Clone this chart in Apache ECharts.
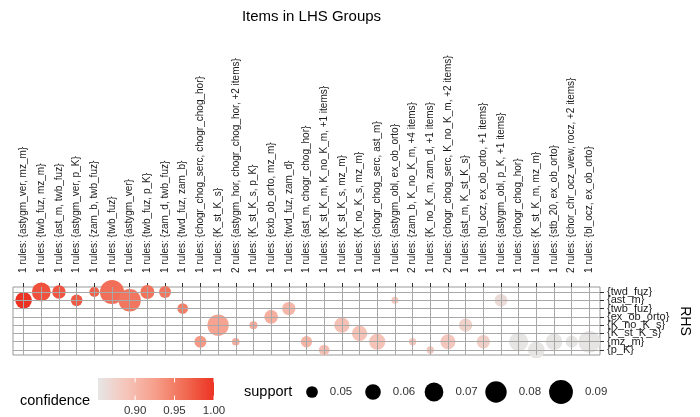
<!DOCTYPE html>
<html>
<head>
<meta charset="utf-8">
<title>Items in LHS Groups</title>
<script src="https://cdn.jsdelivr.net/npm/echarts@6/dist/echarts.min.js"></script>
<style>
  html, body { margin: 0; padding: 0; background: #ffffff; }
  #chart { width: 700px; height: 417px; }
</style>
</head>
<body>
<div id="chart"></div>
<script>
// LHS groups (columns) of the grouped matrix
const lhsGroups = [
  '1 rules: {astygm_ver, mz_m}',
  '1 rules: {twb_fuz, mz_m}',
  '1 rules: {ast_m, twb_fuz}',
  '1 rules: {astygm_ver, p_K}',
  '1 rules: {zam_b, twb_fuz}',
  '1 rules: {twb_fuz}',
  '1 rules: {astygm_ver}',
  '1 rules: {twb_fuz, p_K}',
  '1 rules: {zam_d, twb_fuz}',
  '1 rules: {twd_fuz, zam_b}',
  '1 rules: {chogr_chog_serc, chogr_chog_hor}',
  '1 rules: {K_st_K_s}',
  '2 rules: {astygm_hor, chogr_chog_hor, +2 items}',
  '1 rules: {K_st_K_s, p_K}',
  '1 rules: {exb_ob_orto, mz_m}',
  '1 rules: {twd_fuz, zam_d}',
  '1 rules: {ast_m, chogr_chog_hor}',
  '1 rules: {K_st_K_m, K_no_K_m, +1 items}',
  '1 rules: {K_st_K_s, mz_m}',
  '1 rules: {K_no_K_s, mz_m}',
  '1 rules: {chogr_chog_serc, ast_m}',
  '1 rules: {astygm_obl, ex_ob_orto}',
  '2 rules: {zam_b, K_no_K_m, +4 items}',
  '1 rules: {K_no_K_m, zam_d, +1 items}',
  '2 rules: {chogr_chog_serc, K_no_K_m, +2 items}',
  '1 rules: {ast_m, K_st_K_s}',
  '1 rules: {bl_ocz, ex_ob_orto, +1 items}',
  '1 rules: {astygm_obl, p_K, +1 items}',
  '1 rules: {chogr_chog_hor}',
  '1 rules: {K_st_K_m, mz_m}',
  '1 rules: {stb_20, ex_ob_orto}',
  '2 rules: {chor_chr_ocz_wew, rocz, +2 items}',
  '1 rules: {bl_ocz, ex_ob_orto}'
];

// RHS items (rows, top to bottom)
const rhsItems = ['{twd_fuz}', '{ast_m}', '{twb_fuz}', '{ex_ob_orto}',
                  '{K_no_K_s}', '{K_st_K_s}', '{mz_m}', '{p_K}'];

// RHS row (1-based) for each LHS group
const rhsRow = [2, 1, 1, 2, 1, 1, 2, 1, 1, 3, 7, 5, 7, 5, 4, 3, 7,
                8, 5, 6, 7, 2, 7, 8, 7, 5, 7, 2, 7, 8, 7, 7, 7];

// support of each group
const support = [0.063, 0.070, 0.054, 0.050, 0.0465, 0.091, 0.0836, 0.0555,
                 0.0506, 0.0478, 0.0506, 0.0795, 0.0427, 0.0432, 0.0547, 0.0537,
                 0.0491, 0.0478, 0.0591, 0.0591, 0.0611, 0.0418, 0.0422, 0.0422,
                 0.0582, 0.0537, 0.0537, 0.0522, 0.0709, 0.0632, 0.0632, 0.0513,
                 0.0811];

// confidence of each group
const confidence = [1.000, 0.980, 0.978, 0.975, 0.970, 0.960, 0.955, 0.958,
                    0.956, 0.950, 0.930, 0.920, 0.912, 0.915, 0.910, 0.902,
                    0.905, 0.895, 0.893, 0.892, 0.891, 0.888, 0.888, 0.887,
                    0.886, 0.875, 0.878, 0.866, 0.855, 0.855, 0.855, 0.855,
                    0.855];

// legend breaks
const confBreaks = [0.90, 0.95, 1.00];
const supportBreaks = [0.05, 0.06, 0.07, 0.08, 0.09];

// colour scale limits and stops
const confMin = 0.853, confMax = 1.0;
const confColors = ['#e6e6e6', '#f6c4b9', '#f69d89', '#f16b53', '#ec3323'];

// point diameter from support (area-like scale)
function diameter(s) { return Math.sqrt(10725 * (s - 0.0372)); }

const FONT = '"Liberation Sans", Arial, Helvetica, sans-serif';

const points = lhsGroups.map((_, i) => [i + 1, rhsRow[i], support[i], confidence[i]]);
const colIdx = lhsGroups.map((_, i) => i + 1);
const rowIdx = rhsItems.map((_, i) => i + 1);
// RHS labels are split over two overlaid axes so that neighbouring
// labels (which overlap each other) are all kept
const oddRows = rowIdx.filter(r => r % 2 === 1);
const evenRows = rowIdx.filter(r => r % 2 === 0);

// panel geometry
const P = { left: 13, top: 287, width: 597, height: 68 };
const GRID_COLOR = '#a8a8a8';

const chart = echarts.init(document.getElementById('chart'), null, { renderer: 'canvas' });

// title and legend graphics
const graphics = [];
graphics.push({
  type: 'text', x: P.left + P.width / 2, y: 17,
  style: { text: 'Items in LHS Groups', font: '15px ' + FONT, fill: '#000',
           textAlign: 'center', textVerticalAlign: 'middle' }
});

// confidence colour bar
const bar = { x: 98, y: 378, w: 116, h: 22 };
graphics.push({
  type: 'text', x: 20, y: 401,
  style: { text: 'confidence', font: '14.5px ' + FONT, fill: '#000', textVerticalAlign: 'middle' }
});
graphics.push({
  type: 'rect', shape: { x: bar.x, y: bar.y, width: bar.w, height: bar.h },
  style: {
    fill: new echarts.graphic.LinearGradient(0, 0, 1, 0,
      confColors.map((c, i) => ({ offset: i / (confColors.length - 1), color: c })))
  }
});
confBreaks.forEach(v => {
  const x = bar.x + (v - confMin) / (confMax - confMin) * bar.w;
  graphics.push({ type: 'line', shape: { x1: x, y1: bar.y, x2: x, y2: bar.y + bar.h / 5 },
                  style: { stroke: '#ffffff', lineWidth: 1 } });
  graphics.push({ type: 'line', shape: { x1: x, y1: bar.y + bar.h * 4 / 5, x2: x, y2: bar.y + bar.h },
                  style: { stroke: '#ffffff', lineWidth: 1 } });
  graphics.push({ type: 'text', x: x, y: 411,
                  style: { text: v.toFixed(2), font: '11.5px ' + FONT, fill: '#333',
                           textAlign: 'center', textVerticalAlign: 'middle' } });
});

// support size legend
graphics.push({
  type: 'text', x: 244, y: 392,
  style: { text: 'support', font: '14.5px ' + FONT, fill: '#000', textVerticalAlign: 'middle' }
});
const keyX = [312, 373, 434, 496, 561];
supportBreaks.forEach((s, i) => {
  graphics.push({ type: 'circle', shape: { cx: keyX[i], cy: 392, r: diameter(s) / 2 },
                  style: { fill: '#000' } });
  graphics.push({ type: 'text', x: keyX[i] + diameter(s) / 2 + 12, y: 392,
                  style: { text: s.toFixed(2), font: '11.5px ' + FONT, fill: '#333',
                           textVerticalAlign: 'middle' } });
});

function rhsAxis(labelRows, withTicks, withName) {
  const ax = {
    type: 'value', position: 'right', inverse: true, min: 0.4, max: rhsItems.length + 0.6,
    axisLine: { show: false },
    splitLine: { show: false },
    axisTick: { show: withTicks, customValues: rowIdx, length: 4, lineStyle: { color: '#333', width: 1 } },
    axisLabel: {
      show: true, customValues: labelRows, margin: 7,
      showMinLabel: true, showMaxLabel: true, hideOverlap: false,
      fontSize: 11, fontFamily: FONT, color: '#1a1a1a',
      formatter: v => rhsItems[Math.round(v) - 1]
    }
  };
  if (withName) {
    ax.name = 'RHS';
    ax.nameLocation = 'middle';
    ax.nameRotate = -90;
    ax.nameGap = 78;
    ax.nameTextStyle = { fontSize: 14, fontFamily: FONT, color: '#000' };
  }
  return ax;
}

const option = {
  animation: false,
  backgroundColor: '#ffffff',
  grid: {
    left: P.left, top: P.top, width: P.width, height: P.height,
    show: true, backgroundColor: '#ffffff', borderColor: '#999999', borderWidth: 1
  },
  xAxis: {
    type: 'value', position: 'top', min: 0.4, max: lhsGroups.length + 0.6,
    axisLine: { show: false },
    splitLine: { show: false },
    axisTick: { show: true, customValues: colIdx, length: 4, lineStyle: { color: '#333', width: 1 } },
    axisLabel: {
      show: true, customValues: colIdx, rotate: -90, margin: 14,
      showMinLabel: true, showMaxLabel: true, hideOverlap: false,
      fontSize: 10, fontFamily: FONT, color: '#1a1a1a',
      formatter: v => lhsGroups[Math.round(v) - 1]
    }
  },
  yAxis: [rhsAxis(oddRows, true, true), rhsAxis(evenRows, false, false)],
  visualMap: {
    type: 'continuous', show: false, seriesIndex: 1, dimension: 3,
    min: confMin, max: confMax, inRange: { color: confColors }
  },
  series: [
    {
      // panel grid lines through each column and row
      type: 'scatter', data: [], z: 1, silent: true, yAxisIndex: 0,
      markLine: {
        silent: true, symbol: 'none', animation: false,
        label: { show: false },
        lineStyle: { color: GRID_COLOR, width: 1, type: 'solid' },
        emphasis: { disabled: true },
        data: colIdx.map(x => ({ xAxis: x })).concat(rowIdx.map(y => ({ yAxis: y })))
      }
    },
    {
      type: 'scatter', z: 2, clip: true, silent: true, yAxisIndex: 0,
      data: points,
      symbol: 'circle',
      symbolSize: d => diameter(d[2]),
      itemStyle: { opacity: 1 }
    }
  ],
  graphic: graphics
};

chart.setOption(option);
</script>
</body>
</html>
